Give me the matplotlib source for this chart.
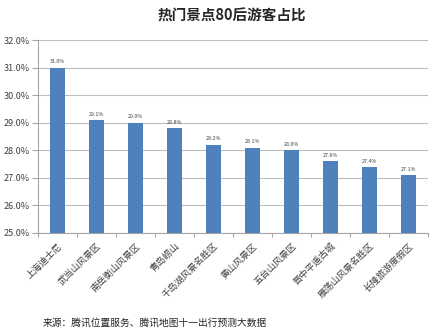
import matplotlib
matplotlib.use("Agg")
import matplotlib.pyplot as plt
from matplotlib.ticker import FuncFormatter, MultipleLocator

plt.rcParams['font.family'] = ['Noto Sans CJK SC', 'DejaVu Sans']

categories = ["上海迪士尼", "武当山风景区", "南岳衡山风景区", "青岛崂山", "千岛湖风景名胜区",
              "黄山风景区", "五台山风景区", "晋中平遥古城", "雁荡山风景名胜区", "长隆旅游度假区"]
values = [31.0, 29.1, 29.0, 28.8, 28.2, 28.1, 28.0, 27.6, 27.4, 27.1]
title = "热门景点80后游客占比"
source = "来源：腾讯位置服务、腾讯地图十一出行预测大数据"

bar_color = "#4F81BD"
grid_color = "#BFBFBF"
axis_color = "#A6A6A6"
text_color = "#404040"

fig = plt.figure(figsize=(4.39, 3.36), dpi=100)
ax = fig.add_axes([38 / 439, 1 - 233 / 336, (428 - 38) / 439, (233 - 40) / 336])

x = range(len(categories))
ax.bar(x, values, width=0.4, color=bar_color, zorder=3)
for xi, v in zip(x, values):
    ax.text(xi, v + 0.12, f"{v:.1f}%", ha="center", va="bottom", fontsize=3.8,
            color=text_color, zorder=4)

ax.set_ylim(25, 32)
ax.set_xlim(-0.5, len(categories) - 0.5)
ax.yaxis.set_major_locator(MultipleLocator(1))
ax.yaxis.set_major_formatter(FuncFormatter(lambda v, p: f"{v:.1f}%"))
ax.grid(axis="y", color=grid_color, linewidth=0.8, zorder=0)

for side in ("top", "right"):
    ax.spines[side].set_visible(False)
for side in ("left", "bottom"):
    ax.spines[side].set_color(axis_color)
    ax.spines[side].set_linewidth(0.8)

ax.tick_params(axis="y", labelsize=6.5, colors=axis_color, labelcolor=text_color,
               length=4, width=0.8, pad=2)
# category boundary ticks on the x axis
ax.set_xticks([i - 0.5 for i in range(len(categories) + 1)], minor=False)
ax.set_xticklabels([])
ax.tick_params(axis="x", which="major", length=3, width=0.8, colors=axis_color)
ax.set_xticks(list(x), minor=True)
ax.set_xticklabels(categories, minor=True, rotation=45, ha="right", va="top",
                   rotation_mode="anchor", fontsize=6.7, color=text_color)
ax.tick_params(axis="x", which="minor", length=0, pad=6)

fig.text(0.527, 1 - 16 / 336, title, ha="center", va="center", fontsize=10.5,
         fontweight="bold", color="#262626")
fig.text(43 / 439, 1 - 323 / 336, source, ha="left", va="center", fontsize=7,
         color="#262626")

fig.savefig("out.png", dpi=100, facecolor="white")
